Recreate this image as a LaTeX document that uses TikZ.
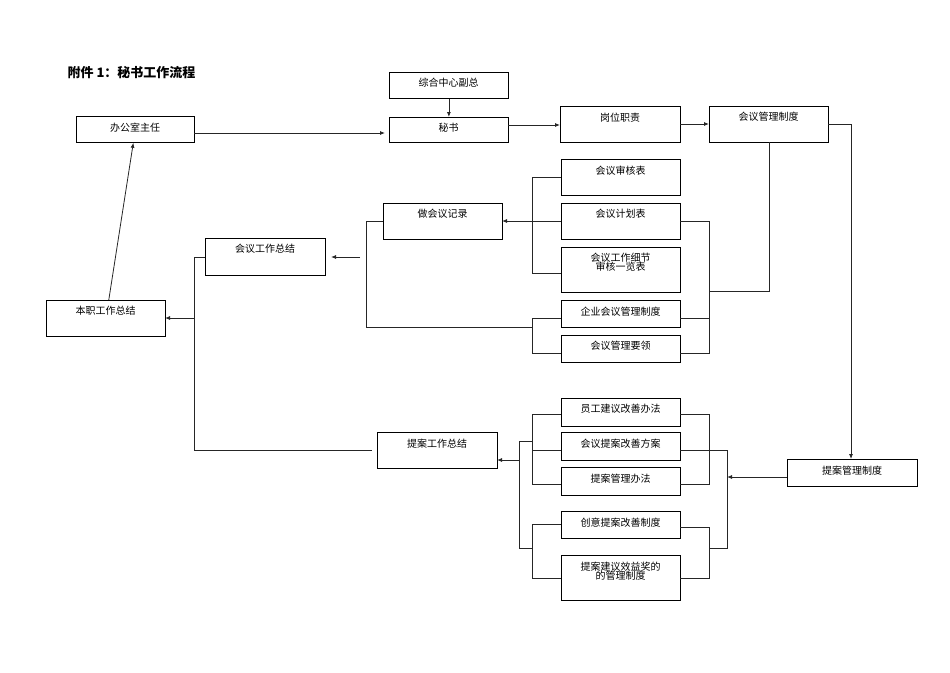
\documentclass[tikz,border=0pt]{standalone}
\usepackage{fontspec}
\setmainfont{Noto Sans CJK SC}
\usetikzlibrary{arrows.meta}
\begin{document}
\begin{tikzpicture}[x=1pt,y=-1pt,
  box/.style={draw,line width=0.8pt,inner sep=0pt},
  lbl/.style={font=\fontsize{10}{11}\selectfont,align=center,anchor=north},
  ln/.style={line width=0.8pt,draw=black!85},
  ar/.style={ln,-{Latex[length=5pt,width=4pt]}}]
\useasboundingbox (0,0) rectangle (950,672);
\newcommand{\bx}[6]{\node[box,minimum width=#4-#2,minimum height=#5-#3,anchor=north west] (#1) at (#2,#3) {};
  \node[lbl] at (#2/2+#4/2,#3+3) {#6};}
\node[anchor=west,font=\bfseries\fontsize{13}{14}\selectfont] (title) at (64,73) {附件 1：秘书工作流程};
\bx{zh}{389}{72}{508}{98}{综合中心副总}
\bx{ms}{389}{117}{508}{142}{秘书}
\bx{bg}{76}{116}{194}{142}{办公室主任}
\bx{gw}{560}{106}{680}{142}{岗位职责}
\bx{hg}{709}{106}{828}{142}{会议管理制度}
\bx{sh}{561}{159}{680}{195}{会议审核表}
\bx{jh}{561}{203}{680}{239}{会议计划表}
\bx{xj}{561}{247}{680}{292}{会议工作细节\\[-2pt]审核一览表}
\bx{qy}{561}{300}{680}{327}{企业会议管理制度}
\bx{yl}{561}{335}{680}{362}{会议管理要领}
\bx{jl}{383}{203}{502}{239}{做会议记录}
\bx{hz}{205}{238}{325}{275}{会议工作总结}
\bx{bz}{46}{300}{165}{336}{本职工作总结}
\bx{yg}{561}{398}{680}{426}{员工建议改善办法}
\bx{ta}{561}{432}{680}{460}{会议提案改善方案}
\bx{bf}{561}{467}{680}{495}{提案管理办法}
\bx{cy}{561}{511}{680}{538}{创意提案改善制度}
\bx{xy}{561}{555}{680}{600}{提案建议效益奖的\\[-2pt]的管理制度}
\bx{tz}{377}{432}{497}{468}{提案工作总结}
\bx{tg}{787}{459}{917}{486}{提案管理制度}
\draw[ar] (zh) -- (ms);
\draw[ar] (194,133) -- (385,133);
\draw[ar] (508,125) -- (560,125);
\draw[ar] (680,124) -- (709,124);
\draw[ar] (828,124) -- (851,124) -- (851,459);
\draw[ln] (769,142) -- (769,291) -- (709,291);
\draw[ln] (680,221) -- (709,221) -- (709,353) -- (680,353);
\draw[ln] (680,318) -- (709,318);
\draw[ln] (561,177) -- (532,177) -- (532,273) -- (561,273);
\draw[ar] (561,221) -- (502,221);
\draw[ln] (561,318) -- (532,318) -- (532,353) -- (561,353);
\draw[ln] (532,327) -- (366,327) -- (366,221) -- (383,221);
\coordinate (fa) at (360,257);
\draw[ar] (fa) -- (331,257);
\draw[ln] (205,257) -- (194,257) -- (194,450) -- (372,450);
\draw[ar] (194,318) -- (165,318);
\draw[ar] (bz) -- (bg);
\draw[ln] (561,414) -- (532,414) -- (532,484) -- (561,484);
\draw[ln] (532,450) -- (561,450);
\draw[ln] (532,441) -- (519,441) -- (519,548) -- (532,548);
\draw[ar] (519,460) -- (497,460);
\draw[ln] (561,524) -- (532,524) -- (532,578) -- (561,578);
\draw[ln] (680,414) -- (709,414) -- (709,484) -- (680,484);
\draw[ln] (680,450) -- (727,450) -- (727,548) -- (709,548);
\draw[ar] (787,477) -- (727,477);
\draw[ln] (680,527) -- (709,527) -- (709,578) -- (680,578);
\end{tikzpicture}
\end{document}
